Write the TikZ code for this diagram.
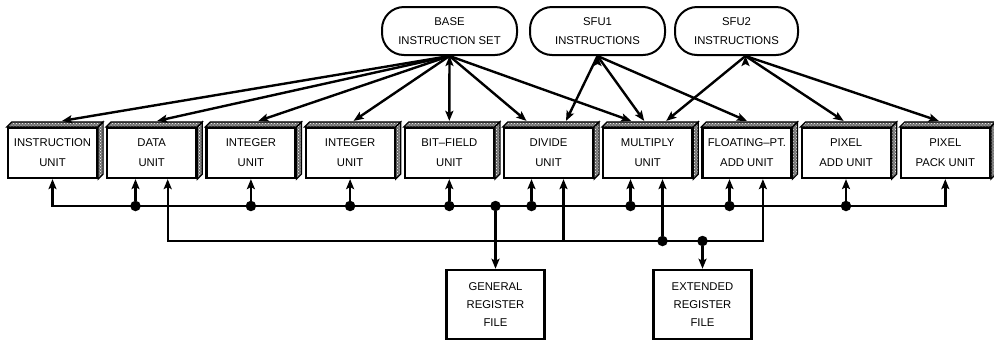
\documentclass[tikz,border=0pt]{standalone}
\usepackage{fontspec}
\setmainfont{Liberation Sans}
\usetikzlibrary{positioning, arrows.meta, patterns}
\tikzset{
x=1pt, y=-1pt, % coordinates counted like pixels, from the top left
>={Stealth[length=10pt, width=8pt, inset=2pt]}, % filled arrow heads
node distance=8pt, % gap between two neighbouring units
unit/.style={draw, line width=2.2pt, fill=white, minimum width=89pt, minimum height=50pt, inner sep=0pt, align=center, font=\fontsize{11.3}{20}\selectfont},
isa/.style={draw, line width=2pt, rounded corners=22pt, minimum height=48pt, inner sep=0pt, align=center, font=\fontsize{11.3}{19}\selectfont},
regfile/.style={draw, line width=2.5pt, minimum width=98pt, minimum height=69pt, inner sep=0pt, align=center, font=\fontsize{11.3}{18}\selectfont},
dot/.style={circle, fill, inner sep=0pt, minimum size=10.5pt},
wire/.style={line width=2.4pt},
}
% top and right faces of a unit box
\newcommand{\extrude}[1]{%
  \fill[black!55] (#1.north west) -- ++(5,-5) -- ([shift={(5,-5)}]#1.north east) -- (#1.north east) -- cycle;
  \fill[black!55] (#1.north east) -- ++(5,-5) -- ([shift={(5,-5)}]#1.south east) -- (#1.south east) -- cycle;
  \draw[pattern=crosshatch dots, pattern color=white, line width=1.2pt] (#1.north west) -- ++(5,-5) -- ([shift={(5,-5)}]#1.north east) -- (#1.north east) -- cycle;
  \draw[pattern=crosshatch dots, pattern color=white, line width=1.2pt] (#1.north east) -- ++(5,-5) -- ([shift={(5,-5)}]#1.south east) -- (#1.south east) -- cycle;
}

\begin{document}
\begin{tikzpicture}
    \useasboundingbox (0,0) rectangle (994,341);

    \node[isa, minimum width=135pt] (base) at (449.5,31) {BASE\\INSTRUCTION SET};
    \node[isa, minimum width=135pt] (sfu1) at (597.5,31) {SFU1\\INSTRUCTIONS};
    \node[isa, minimum width=123pt] (sfu2) at (736.5,31) {SFU2\\INSTRUCTIONS};

    \node[unit] (instr) at (52.5,153) {INSTRUCTION\\UNIT};
    \node[unit, right=of instr] (data) {DATA\\UNIT};
    \node[unit, right=of data] (int1) {INTEGER\\UNIT};
    \node[unit, right=of int1] (int2) {INTEGER\\UNIT};
    \node[unit, right=of int2] (bitf) {BIT–FIELD\\UNIT};
    \node[unit, right=of bitf] (divd) {DIVIDE\\UNIT};
    \node[unit, right=of divd] (mult) {MULTIPLY\\UNIT};
    \node[unit, right=of mult] (fpadd) {FLOATING–PT.\\ADD UNIT};
    \node[unit, right=of fpadd] (pxadd) {PIXEL\\ADD UNIT};
    \node[unit, right=of pxadd] (pxpack) {PIXEL\\PACK UNIT};
    \extrude{instr} \extrude{data} \extrude{int1} \extrude{int2} \extrude{bitf}
    \extrude{divd} \extrude{mult} \extrude{fpadd} \extrude{pxadd} \extrude{pxpack}

    \node[regfile] (grf) at (495.5,304.5) {GENERAL\\REGISTER\\FILE};
    \node[regfile] (erf) at (702.5,304.5) {EXTENDED\\REGISTER\\FILE};

    \draw[wire, ->] (base.south) edge ([xshift=9.5pt, yshift=6pt]instr.north)
    (base.south) edge ([xshift=5.5pt, yshift=6pt]data.north)
    (base.south) edge ([xshift=7.5pt, yshift=6pt]int1.north)
    (base.south) edge ([xshift=3.5pt, yshift=6pt]int2.north)
    (base.south) edge ([yshift=6pt]bitf.north)
    (base.south) edge ([xshift=-22pt, yshift=6pt]divd.north)
    (base.south) edge ([xshift=-16.5pt, yshift=6pt]mult.north);
    \draw[wire, ->] (sfu1.south) edge ([xshift=17.5pt, yshift=6pt]divd.north)
    (sfu1.south) edge ([xshift=-3.5pt, yshift=6pt]mult.north)
    (sfu1.south) edge ([yshift=6pt]fpadd.north);
    \draw[wire, ->] ([xshift=9pt]sfu2.south) edge ([xshift=18.5pt, yshift=6pt]mult.north)
    ([xshift=9pt]sfu2.south) edge ([xshift=-2.5pt, yshift=6pt]pxadd.north)
    ([xshift=9pt]sfu2.south) edge ([xshift=-6.5pt, yshift=6pt]pxpack.north);

    \coordinate (bus1) at (500,206);
    \coordinate (bus2) at (460,241);
    \draw[wire, <->] (instr.south) |- (bus1) -| (pxpack.south);
    \draw[wire, <->] ([xshift=16pt]data.south) |- (bus2) -| ([xshift=16pt]fpadd.south);

    \node[dot] (j1) at (135.5,206) {};
    \node[dot] (j2) at (int1.south |- bus1) {};
    \node[dot] (j3) at (int2.south |- bus1) {};
    \node[dot] (j4) at (bitf.south |- bus1) {};
    \node[dot] (j5) at (531.5,206) {};
    \node[dot] (j6) at (630.5,206) {};
    \node[dot] (j7) at (729.5,206) {};
    \node[dot] (j8) at (846,206) {};
    \node[dot] (g1) at (grf.north |- bus1) {};
    \draw[wire, ->] (j1) -- (j1 |- data.south);
    \draw[wire, ->] (j2) -- (int1.south);
    \draw[wire, ->] (j3) -- (int2.south);
    \draw[wire, ->] (j4) -- (bitf.south);
    \draw[wire, ->] (j5) -- (j5 |- divd.south);
    \draw[wire, ->] (j6) -- (j6 |- mult.south);
    \draw[wire, ->] (j7) -- (j7 |- fpadd.south);
    \draw[wire, ->] (j8) -- (j8 |- pxadd.south);
    \draw[wire, ->] (g1) -- (grf.north);

    \coordinate (d2) at (563.5,241);
    \node[dot] (m2) at (662.5,241) {};
    \node[dot] (e2) at (erf.north |- bus2) {};
    \draw[wire, ->] (d2) -- (d2 |- divd.south);
    \draw[wire, ->] (m2) -- (m2 |- mult.south);
    \draw[wire, ->] (e2) -- (erf.north);
\end{tikzpicture}
\end{document}
